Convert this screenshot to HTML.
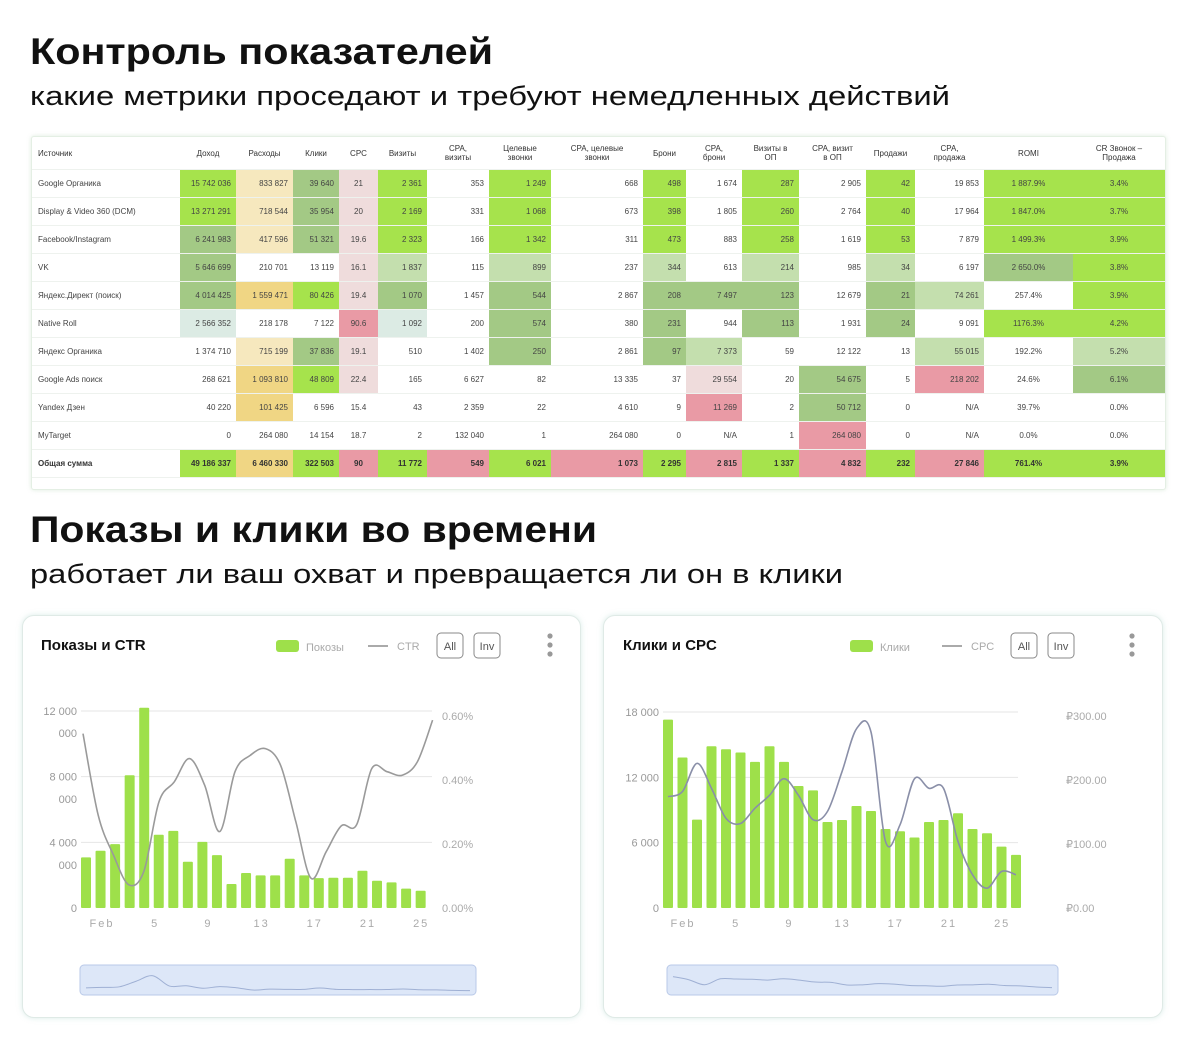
<!DOCTYPE html>
<html><head><meta charset="utf-8">
<style>
body{margin:0;width:1190px;height:1050px;background:#fff;position:relative;overflow:hidden;font-family:"Liberation Sans","Noto Sans CJK SC",sans-serif;color:#222}
.abs{position:absolute}
#tbl{position:absolute;left:31px;top:136px;width:1133px;height:352px;border:1px solid #e4efe4;border-radius:3px;box-shadow:0 0 4px rgba(160,200,160,.35);background:#fff}
table{border-collapse:collapse;table-layout:fixed;width:1133px;font-size:8px;color:#444}
td,th{padding:0 5px;white-space:nowrap;overflow:hidden;border-bottom:1px solid #eef2ee}
th{height:32px;font-weight:normal;color:#333;font-size:8px;line-height:9px;text-align:center}
td{height:27px;text-align:right}
td.c{text-align:center}
td:first-child,th:first-child{text-align:left;padding-left:6px}
.G{background:#a6e34c}.M{background:#a3c985}.L{background:#c4dfae}.Y{background:#f0d684}.y{background:#f6e8be}.P{background:#e99aa5}.p{background:#efdcdc}.T{background:#dcebe4}
tr.tot td{font-weight:bold;color:#333}
.card{position:absolute;background:#fff;border:1px solid #dfeae6;border-radius:12px;box-shadow:0 0 6px rgba(150,200,190,.35)}
</style></head><body>
<svg class="abs" style="left:0;top:0" width="1190" height="600">
<text x="30" y="64" font-family="Liberation Sans, sans-serif" font-weight="bold" font-size="37" textLength="463" lengthAdjust="spacingAndGlyphs" fill="#111">Контроль показателей</text>
<text x="30" y="105" font-family="Liberation Sans, sans-serif" font-size="27" textLength="920" lengthAdjust="spacingAndGlyphs" fill="#111">какие метрики проседают и требуют немедленных действий</text>
<text x="30" y="542" font-family="Liberation Sans, sans-serif" font-weight="bold" font-size="37" textLength="567" lengthAdjust="spacingAndGlyphs" fill="#111">Показы и клики во времени</text>
<text x="30" y="583" font-family="Liberation Sans, sans-serif" font-size="27" textLength="813" lengthAdjust="spacingAndGlyphs" fill="#111">работает ли ваш охват и превращается ли он в клики</text>
</svg>

<div id="tbl">
<table>
<colgroup><col style="width:148px"><col style="width:56px"><col style="width:57px"><col style="width:46px"><col style="width:39px"><col style="width:49px"><col style="width:62px"><col style="width:62px"><col style="width:92px"><col style="width:43px"><col style="width:56px"><col style="width:57px"><col style="width:67px"><col style="width:49px"><col style="width:69px"><col style="width:89px"><col style="width:92px"></colgroup>
<tr><th>Источник</th><th>Доход</th><th>Расходы</th><th>Клики</th><th>CPC</th><th>Визиты</th><th>CPA,<br>визиты</th><th>Целевые<br>звонки</th><th>CPA, целевые<br>звонки</th><th>Брони</th><th>CPA,<br>брони</th><th>Визиты в<br>ОП</th><th>CPA, визит<br>в ОП</th><th>Продажи</th><th>CPA,<br>продажа</th><th>ROMI</th><th>CR Звонок –<br>Продажа</th></tr>
<tr><td>Google Органика</td><td class="G">15 742 036</td><td class="y">833 827</td><td class="M">39 640</td><td class="c p">21</td><td class="G">2 361</td><td>353</td><td class="G">1 249</td><td>668</td><td class="G">498</td><td>1 674</td><td class="G">287</td><td>2 905</td><td class="G">42</td><td>19 853</td><td class="c G">1 887.9%</td><td class="c G">3.4%</td></tr>
<tr><td>Display &amp; Video 360 (DCM)</td><td class="G">13 271 291</td><td class="y">718 544</td><td class="M">35 954</td><td class="c p">20</td><td class="G">2 169</td><td>331</td><td class="G">1 068</td><td>673</td><td class="G">398</td><td>1 805</td><td class="G">260</td><td>2 764</td><td class="G">40</td><td>17 964</td><td class="c G">1 847.0%</td><td class="c G">3.7%</td></tr>
<tr><td>Facebook/Instagram</td><td class="M">6 241 983</td><td class="y">417 596</td><td class="M">51 321</td><td class="c p">19.6</td><td class="G">2 323</td><td>166</td><td class="G">1 342</td><td>311</td><td class="G">473</td><td>883</td><td class="G">258</td><td>1 619</td><td class="G">53</td><td>7 879</td><td class="c G">1 499.3%</td><td class="c G">3.9%</td></tr>
<tr><td>VK</td><td class="M">5 646 699</td><td>210 701</td><td>13 119</td><td class="c p">16.1</td><td class="L">1 837</td><td>115</td><td class="L">899</td><td>237</td><td class="L">344</td><td>613</td><td class="L">214</td><td>985</td><td class="L">34</td><td>6 197</td><td class="c M">2 650.0%</td><td class="c G">3.8%</td></tr>
<tr><td>Яндекс.Директ (поиск)</td><td class="M">4 014 425</td><td class="Y">1 559 471</td><td class="G">80 426</td><td class="c p">19.4</td><td class="M">1 070</td><td>1 457</td><td class="M">544</td><td>2 867</td><td class="M">208</td><td class="M">7 497</td><td class="M">123</td><td>12 679</td><td class="M">21</td><td class="L">74 261</td><td class="c">257.4%</td><td class="c G">3.9%</td></tr>
<tr><td>Native Roll</td><td class="T">2 566 352</td><td>218 178</td><td>7 122</td><td class="c P">90.6</td><td class="T">1 092</td><td>200</td><td class="M">574</td><td>380</td><td class="M">231</td><td>944</td><td class="M">113</td><td>1 931</td><td class="M">24</td><td>9 091</td><td class="c G">1176.3%</td><td class="c G">4.2%</td></tr>
<tr><td>Яндекс Органика</td><td>1 374 710</td><td class="y">715 199</td><td class="M">37 836</td><td class="c p">19.1</td><td>510</td><td>1 402</td><td class="M">250</td><td>2 861</td><td class="M">97</td><td class="L">7 373</td><td>59</td><td>12 122</td><td>13</td><td class="L">55 015</td><td class="c">192.2%</td><td class="c L">5.2%</td></tr>
<tr><td>Google Ads поиск</td><td>268 621</td><td class="Y">1 093 810</td><td class="G">48 809</td><td class="c p">22.4</td><td>165</td><td>6 627</td><td>82</td><td>13 335</td><td>37</td><td class="p">29 554</td><td>20</td><td class="M">54 675</td><td>5</td><td class="P">218 202</td><td class="c">24.6%</td><td class="c M">6.1%</td></tr>
<tr><td>Yandex Дзен</td><td>40 220</td><td class="Y">101 425</td><td>6 596</td><td class="c">15.4</td><td>43</td><td>2 359</td><td>22</td><td>4 610</td><td>9</td><td class="P">11 269</td><td>2</td><td class="M">50 712</td><td>0</td><td>N/A</td><td class="c">39.7%</td><td class="c">0.0%</td></tr>
<tr><td>MyTarget</td><td>0</td><td>264 080</td><td>14 154</td><td class="c">18.7</td><td>2</td><td>132 040</td><td>1</td><td>264 080</td><td>0</td><td>N/A</td><td>1</td><td class="P">264 080</td><td>0</td><td>N/A</td><td class="c">0.0%</td><td class="c">0.0%</td></tr>
<tr class="tot"><td>Общая сумма</td><td class="G">49 186 337</td><td class="Y">6 460 330</td><td class="G">322 503</td><td class="c P">90</td><td class="G">11 772</td><td class="P">549</td><td class="G">6 021</td><td class="P">1 073</td><td class="G">2 295</td><td class="P">2 815</td><td class="G">1 337</td><td class="P">4 832</td><td class="G">232</td><td class="P">27 846</td><td class="c G">761.4%</td><td class="c G">3.9%</td></tr>
</table>
</div>

<div class="card" style="left:22px;top:615px;width:557px;height:401px"></div>
<div class="card" style="left:603px;top:615px;width:558px;height:401px"></div>
<svg id="charts" class="abs" style="left:0;top:0" width="1190" height="1050"></svg>

<script>
// Chart 1: Показы и CTR
const days1 = [1,2,3,4,5,6,7,8,9,10,11,12,13,14,15,16,17,18,19,20,21,22,23,24];
const impressions = [3080,3490,3890,8090,12200,4460,4700,2820,4030,3220,1460,2130,1990,1990,3000,1990,1820,1840,1840,2270,1660,1560,1180,1050];
const ctr = [0.545,0.29,0.166,0.073,0.114,0.332,0.394,0.467,0.384,0.239,0.426,0.477,0.498,0.446,0.27,0.093,0.176,0.257,0.26,0.436,0.426,0.415,0.457,0.587];
const leftTicks1 = [0,4000,8000,12000];
const leftTickLabels1 = ["0","4 000","8 000","12 000"];
const rightTicks1 = [0,0.2,0.4,0.6];
const rightTickLabels1 = ["0.00%","0.20%","0.40%","0.60%"];
const xTickDays1 = [1,5,9,13,17,21,25];
const xTickLabels1 = ["Feb","5","9","13","17","21","25"];
// Chart 2: Клики и CPC
const days2 = [1,2,3,4,5,6,7,8,9,10,11,12,13,14,15,16,17,18,19,20,21,22,23,24,25];
const clicks = [17300,13820,8120,14860,14580,14280,13420,14860,13420,11200,10800,7900,8080,9370,8910,7260,7050,6470,7900,8080,8700,7260,6860,5640,4880];
const cpc = [174,182,226,187,140,132,156,176,202,176,138,151,213,280,275,104,130,202,187,187,104,52,31,57,52];
const leftTicks2 = [0,6000,12000,18000];
const leftTickLabels2 = ["0","6 000","12 000","18 000"];
const rightTicks2 = [0,100,200,300];
const rightTickLabels2 = ["₽0.00","₽100.00","₽200.00","₽300.00"];
const xTickDays2 = [1,5,9,13,17,21,25];
const xTickLabels2 = ["Feb","5","9","13","17","21","25"];

const NS="http://www.w3.org/2000/svg";
const svg=document.getElementById('charts');
function mk(tag,attrs,parent){const e=document.createElementNS(NS,tag);for(const k in attrs)e.setAttribute(k,attrs[k]);(parent||svg).appendChild(e);return e;}
function txt(x,y,s,attrs){const e=mk('text',Object.assign({x:x,y:y,'font-family':'Liberation Sans, sans-serif'},attrs));e.textContent=s;return e;}
function smooth(pts){let d='M'+pts[0][0]+','+pts[0][1];for(let i=0;i<pts.length-1;i++){const p0=pts[i-1]||pts[i],p1=pts[i],p2=pts[i+1],p3=pts[i+2]||p2;const c1x=p1[0]+(p2[0]-p0[0])/6,c1y=p1[1]+(p2[1]-p0[1])/6,c2x=p2[0]-(p3[0]-p1[0])/6,c2y=p2[1]-(p3[1]-p1[1])/6;d+=' C'+c1x+','+c1y+' '+c2x+','+c2y+' '+p2[0]+','+p2[1];}return d;}

function drawChart(o){
  const g=mk('g',{});
  
  
  const yL=v=>o.y0-(v/o.lmax)*(o.y0-o.ytop);
  const yR=v=>o.y0-(v/o.rmax)*(o.y0-o.ytopR);
  const xB=i=>o.xb0+i*o.pitch;
  const xLn=i=>o.xl0+i*o.lpitch;
  const xD=d=>o.xd0+(d-1)*o.dpitch;
  o.lt.forEach((v,i)=>{if(v>0){const gl=mk('line',{x1:o.gx0,x2:o.gx1,y1:yL(v),y2:yL(v),stroke:'#e6e6e6','stroke-width':1},g);}
    const t=txt(o.lx,yL(v)+4,o.ltl[i],{'font-size':11,fill:'#999','text-anchor':'end'},g);g.appendChild(t);});
  o.rt.forEach((v,i)=>{const t=txt(o.rx,yR(v)+4,o.rtl[i],{'font-size':11,fill:'#aaa'});g.appendChild(t);});
  (o.extra||[]).forEach(e=>{const t=txt(o.lx,e+4,'000',{'font-size':11,fill:'#999','text-anchor':'end'});g.appendChild(t);});
  o.bars.forEach((v,i)=>{const b=mk('rect',{x:xB(i),y:yL(v),width:o.bw,height:o.y0-yL(v),fill:'#9ee04a',rx:1},g);});
  const pts=o.line.map((v,i)=>[xLn(i),yR(v)]);
  const p=mk('path',{d:smooth(pts),fill:'none',stroke:o.lc,'stroke-width':1.6},g);
  
  o.xt.forEach((d,i)=>{const t=txt(xD(d),o.y0+19,o.xtl[i],{'font-size':11,fill:'#aaa','text-anchor':'middle','letter-spacing':'2'});g.appendChild(t);});
  const nav=mk('rect',{x:o.nx,y:965,width:o.nw,height:30,rx:4,fill:'#dde7f8',stroke:'#b9c9e8'},g);
  
  const np=o.bars.map((v,i)=>[o.nx+6+i*(o.nw-12)/(o.bars.length-1),992-(v/o.lmax)*16]);
  const npath=mk('path',{d:smooth(np),fill:'none',stroke:'#9fb0d4','stroke-width':1},g);
  
  const ti=txt(o.tx,650,o.title,{'font-size':15,'font-weight':'bold',fill:'#111'});g.appendChild(ti);
  const sw=mk('rect',{x:o.lgx,y:640,width:23,height:12,rx:3,fill:'#9ee04a'},g);
  const l1=txt(o.lgx+30,651,o.barName,{'font-size':11,fill:'#aaa'});g.appendChild(l1);
  const ll=mk('line',{x1:o.lgx+92,x2:o.lgx+112,y1:646,y2:646,stroke:'#aaa','stroke-width':2},g);
  const l2=txt(o.lgx+121,650,o.lineName,{'font-size':11,fill:'#aaa'});g.appendChild(l2);
  [['All',o.lgx+161,'all-button'],['Inv',o.lgx+198,'inv-button']].forEach(b=>{const r=mk('rect',{x:b[1],y:633,width:26,height:25,rx:4,fill:'#fff',stroke:'#888'},g);const t=txt(b[1]+13,650,b[0],{'font-size':11,fill:'#555','text-anchor':'middle'});g.appendChild(t);});
  [636,645,654].forEach(yy=>{const c=mk('circle',{cx:o.dotx,cy:yy,r:2.6,fill:'#999'},g);});
}
drawChart({name:'impressions-ctr-chart',title:'Показы и CTR',barName:'Покозы',lineName:'CTR',tx:41,lgx:276,dotx:550,
  y0:908,ytop:711,lmax:12000,ytopR:716,rmax:0.6,xb0:81,pitch:14.55,bw:10,xl0:83,lpitch:15.2,xd0:102,dpitch:13.3,
  gx0:81,gx1:432,lx:77,rx:442,lc:'#9a9a9a',lt:leftTicks1,ltl:leftTickLabels1,rt:rightTicks1,rtl:rightTickLabels1,
  xt:xTickDays1,xtl:xTickLabels1,bars:impressions,line:ctr,nx:80,nw:396,extra:[733,799,865]});
drawChart({name:'clicks-cpc-chart',title:'Клики и CPC',barName:'Клики',lineName:'CPC',tx:623,lgx:850,dotx:1132,
  y0:908,ytop:712,lmax:18000,ytopR:716,rmax:300,xb0:663,pitch:14.5,bw:10,xl0:668,lpitch:14.5,xd0:683,dpitch:13.3,
  gx0:663,gx1:1018,lx:659,rx:1066,lc:'#8a8fa8',lt:leftTicks2,ltl:leftTickLabels2,rt:rightTicks2,rtl:rightTickLabels2,
  xt:xTickDays2,xtl:xTickLabels2,bars:clicks,line:cpc,nx:667,nw:391});
</script>
</body></html>
